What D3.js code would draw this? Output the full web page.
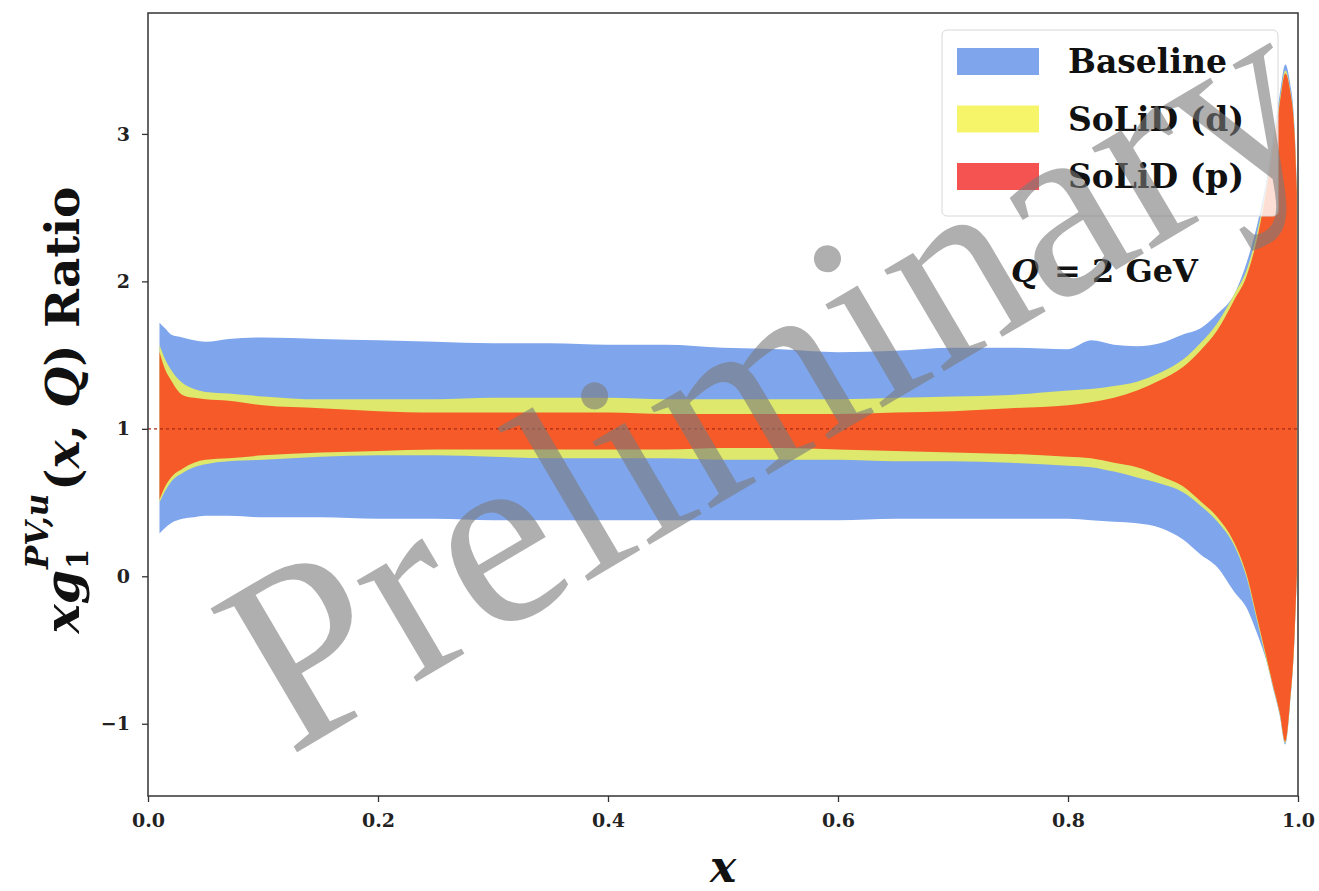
<!DOCTYPE html>
<html>
<head>
<meta charset="utf-8">
<script src="https://cdn.jsdelivr.net/npm/d3@7"></script>
<style>
  html, body { margin: 0; padding: 0; background: #fff; }
  svg { display: block; }
</style>
</head>
<body>
<svg id="chart" width="1319" height="891"></svg>
<script>
// ---------- data ----------
const xGrid = [0.01,0.015,0.02,0.03,0.04,0.05,0.07,0.1,0.15,0.2,0.25,0.3,0.35,0.4,0.45,0.5,0.55,0.6,0.65,0.7,0.75,0.8,0.82,0.84,0.86,0.88,0.9,0.915,0.93,0.945,0.955,0.965,0.972,0.978,0.984,0.989,0.993,0.997,0.999];
const baselineHi = [1.72,1.68,1.64,1.62,1.60,1.59,1.61,1.62,1.61,1.60,1.59,1.58,1.58,1.57,1.57,1.55,1.54,1.52,1.53,1.55,1.55,1.54,1.60,1.57,1.56,1.58,1.64,1.68,1.78,1.92,2.12,2.40,2.66,2.96,3.26,3.47,3.35,3.05,2.65];
const baselineLo = [0.29,0.33,0.36,0.39,0.40,0.41,0.41,0.40,0.40,0.39,0.39,0.38,0.38,0.38,0.38,0.38,0.38,0.38,0.39,0.39,0.39,0.39,0.38,0.37,0.36,0.33,0.25,0.15,0.06,-0.11,-0.21,-0.40,-0.56,-0.75,-0.94,-1.14,-0.88,-0.42,0.0];
const solidDHi = [1.57,1.47,1.40,1.31,1.27,1.25,1.24,1.22,1.20,1.20,1.20,1.21,1.21,1.21,1.20,1.20,1.20,1.20,1.21,1.22,1.23,1.26,1.27,1.29,1.32,1.38,1.47,1.58,1.72,1.92,2.07,2.35,2.62,2.92,3.22,3.43,3.31,3.02,2.62];
const solidDLo = [0.50,0.58,0.64,0.70,0.74,0.76,0.78,0.79,0.81,0.82,0.82,0.81,0.80,0.80,0.80,0.79,0.79,0.79,0.78,0.78,0.77,0.75,0.74,0.71,0.67,0.63,0.57,0.48,0.37,0.20,0.0,-0.32,-0.55,-0.74,-0.93,-1.13,-0.87,-0.41,0.01];
const solidPHi = [1.52,1.40,1.33,1.23,1.21,1.20,1.19,1.16,1.14,1.12,1.11,1.11,1.11,1.11,1.10,1.10,1.10,1.10,1.11,1.12,1.14,1.16,1.18,1.21,1.26,1.33,1.42,1.53,1.67,1.88,2.03,2.31,2.60,2.90,3.20,3.41,3.30,3.00,2.60];
const solidPLo = [0.52,0.61,0.67,0.73,0.77,0.79,0.80,0.82,0.84,0.85,0.86,0.86,0.86,0.86,0.86,0.87,0.87,0.86,0.85,0.84,0.83,0.81,0.80,0.77,0.74,0.68,0.61,0.51,0.40,0.22,0.02,-0.30,-0.53,-0.73,-0.92,-1.12,-0.86,-0.40,0.02];
const seriesNames = ["Baseline", "SoLiD (d)", "SoLiD (p)"];
const xTicks = [0, 0.2, 0.4, 0.6, 0.8, 1.0];
const yTicks = [-1, 0, 1, 2, 3];
const referenceLine = 1;

// ---------- layout ----------
const svg = d3.select("#chart");
const L = 148, R = 1298, T = 13, B = 796;
const x = d3.scaleLinear().domain([0, 1]).range([L, R]);
const y = d3.scaleLinear().domain([-1.49, 3.82]).range([B, T]);

const bandColors = ["#7fa6ec", "#dde86c", "#f55a28"];
const legendColors = ["#7fa6ec", "#f6f56a", "#f55252"];
const bands = [
  {hi: baselineHi, lo: baselineLo},
  {hi: solidDHi, lo: solidDLo},
  {hi: solidPHi, lo: solidPLo}
];

svg.append("defs").append("clipPath").attr("id", "plotclip")
  .append("rect").attr("x", L).attr("y", T).attr("width", R - L).attr("height", B - T);

const plot = svg.append("g").attr("clip-path", "url(#plotclip)");
bands.forEach((b, i) => {
  const pts = xGrid.map((xv, k) => ({x: xv, hi: b.hi[k], lo: b.lo[k]}));
  const area = d3.area().x(d => x(d.x)).y0(d => y(d.lo)).y1(d => y(d.hi)).curve(d3.curveMonotoneX);
  plot.append("path").datum(pts).attr("d", area).attr("fill", bandColors[i]);
});

// reference dashed line
plot.append("line")
  .attr("x1", x(0)).attr("x2", x(1))
  .attr("y1", y(referenceLine)).attr("y2", y(referenceLine))
  .attr("stroke", "#a82a14").attr("stroke-width", 1.3)
  .attr("stroke-dasharray", "3,3");

// ---------- axes ----------
const fontTick = "'DejaVu Serif', serif";
const xAxis = d3.axisBottom(x).tickValues(xTicks).tickFormat(d3.format(".1f")).tickSize(6).tickPadding(12);
const yAxis = d3.axisLeft(y).tickValues(yTicks).tickFormat(d => d < 0 ? "\u2212" + Math.abs(d) : String(d)).tickSize(6).tickPadding(12);

const gx = svg.append("g").attr("transform", `translate(0,${B})`).call(xAxis);
const gy = svg.append("g").attr("transform", `translate(${L},0)`).call(yAxis);
[gx, gy].forEach(g => {
  g.select(".domain").remove();
  g.selectAll(".tick line").attr("stroke", "#333").attr("stroke-width", 1.3);
  g.selectAll(".tick text").attr("fill", "#222").style("font-family", fontTick)
    .style("font-weight", "bold").style("font-size", "19px");
});

// frame
svg.append("rect").attr("x", L).attr("y", T).attr("width", R - L).attr("height", B - T)
  .attr("fill", "none").attr("stroke", "#333").attr("stroke-width", 1.5);

// x label
svg.append("text").attr("x", (L + R) / 2).attr("y", 882)
  .attr("text-anchor", "middle")
  .style("font-family", fontTick).style("font-weight", "bold").style("font-style", "italic")
  .style("font-size", "44px").attr("fill", "#111").text("x");

// y label (pieces laid out in rotated frame)
const yl = svg.append("g").attr("transform", "translate(79,410) rotate(-90)");
const fs = 47;
const styleT = sel => sel.style("font-family", fontTick).style("font-weight", "bold").attr("fill", "#111");
const t1 = styleT(yl.append("text")).style("font-size", (fs + 2) + "px").style("font-style", "italic").text("xg");
const w1 = t1.node().getComputedTextLength();
const sup = styleT(yl.append("text")).style("font-size", "31px").style("font-style", "italic").text("PV,u");
const sub = styleT(yl.append("text")).style("font-size", "29px").text("1");
const wsup = sup.node().getComputedTextLength();
const t2 = styleT(yl.append("text")).style("font-size", fs + "px");
t2.append("tspan").text("(");
t2.append("tspan").style("font-style", "italic").text("x");
t2.append("tspan").text(", ");
t2.append("tspan").style("font-style", "italic").text("Q");
t2.append("tspan").text(") Ratio");
const w2 = t2.node().getComputedTextLength();
const total = w1 + wsup + 4 + w2;
const x0 = -total / 2;
t1.attr("x", x0).attr("y", 0);
sup.attr("x", x0 + w1 + 1).attr("y", -31);
sub.attr("x", x0 + w1 + 1).attr("y", 9);
t2.attr("x", x0 + w1 + wsup + 4).attr("y", 0);

// legend
const lg = svg.append("g");
lg.append("rect").attr("x", 942).attr("y", 30).attr("width", 336).attr("height", 186)
  .attr("rx", 5).attr("fill", "#fff").attr("fill-opacity", 0.8)
  .attr("stroke", "#d8d8d8").attr("stroke-width", 1);
seriesNames.forEach((name, i) => {
  const cy = 61 + i * 57.5;
  lg.append("rect").attr("x", 957).attr("y", cy - 13).attr("width", 82).attr("height", 27)
    .attr("fill", legendColors[i]);
  lg.append("text").attr("x", 1068).attr("y", cy + 12)
    .style("font-family", fontTick).style("font-weight", "bold").style("font-size", "33px")
    .attr("fill", "#111").text(name);
});

// annotation
const ann = svg.append("text").attr("x", 1011).attr("y", 282)
  .style("font-family", fontTick).style("font-weight", "bold").style("font-size", "32px").attr("fill", "#111");
ann.append("tspan").style("font-style", "italic").text("Q");
ann.append("tspan").text(" = 2 GeV").attr("dx", 4);

// watermark
svg.append("text")
  .attr("transform", "translate(810,450) rotate(-30.5)")
  .attr("text-anchor", "middle")
  .style("font-family", "'Liberation Serif', serif").style("font-size", "256px")
  .attr("fill", "#7a7a7a").attr("fill-opacity", 0.6)
  .text("Preliminary");
</script>
</body>
</html>
